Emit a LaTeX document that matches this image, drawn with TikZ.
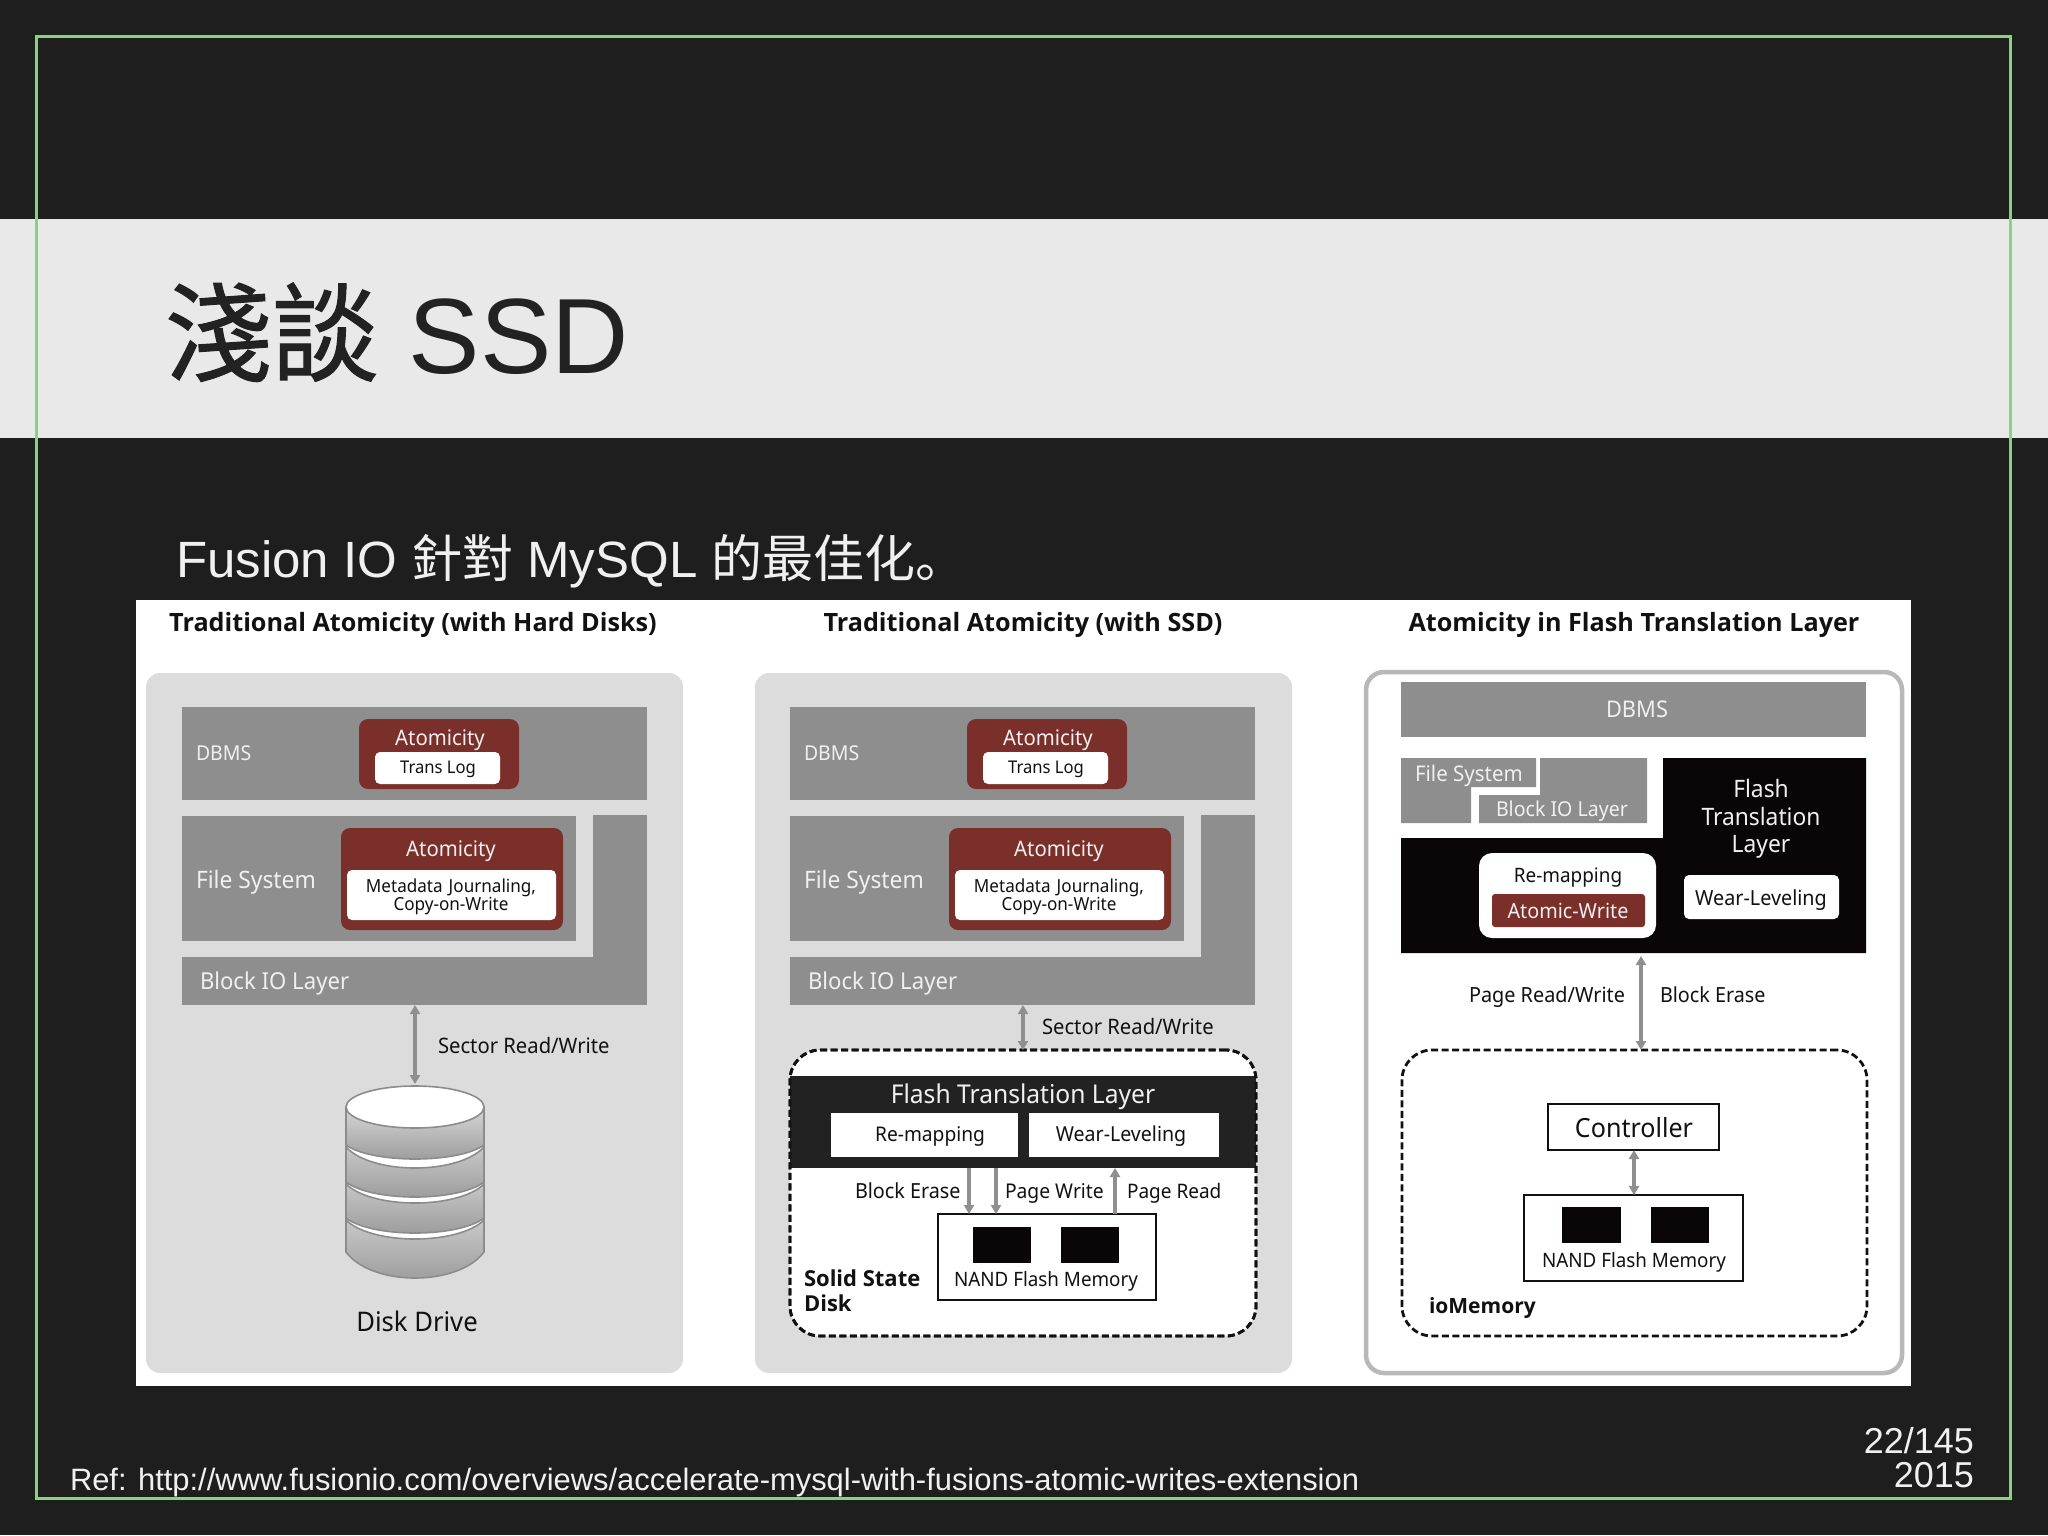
\documentclass[tikz,border=0pt]{standalone}
\usepackage{fontspec}
\setmainfont{Noto Sans}[FakeStretch=0.95]
\newfontfamily\libsans{Liberation Sans}
\newfontfamily\cjkfont{Noto Sans CJK SC}
\newfontfamily\cjktitle{Noto Sans CJK SC}[FakeBold=1]
\newfontfamily\hbf{Open Sans}
\usetikzlibrary{arrows.meta}
\definecolor{slide}{HTML}{1E1E1F}
\definecolor{bandc}{HTML}{E9E9E9}
\definecolor{frameg}{HTML}{86D47E}
\definecolor{panelc}{HTML}{DDDCDD}
\definecolor{barc}{HTML}{8E8E8E}
\definecolor{redc}{HTML}{7B2F2A}
\definecolor{ink}{HTML}{111111}
\definecolor{ftlc}{HTML}{222222}
\definecolor{blk}{HTML}{0A0506}
\definecolor{arrc}{HTML}{8F8F8F}
\newcommand{\fs}[1]{\fontsize{#1}{#1}\selectfont}
\tikzset{
  plain/.style={inner sep=0pt,outer sep=0pt},
  panel/.style={plain,fill=panelc,rounded corners=14pt},
  panelw/.style={plain,fill=white,draw=black!28,line width=4.5pt,rounded corners=18pt},
  bar/.style={plain,fill=barc},
  redbox/.style={plain,fill=redc,rounded corners=9pt},
  redflat/.style={plain,fill=redc,rounded corners=3pt},
  whitebox/.style={plain,fill=white,rounded corners=5pt},
  whitebig/.style={plain,fill=white,rounded corners=13pt},
  whiteflat/.style={plain,fill=white},
  blackbox/.style={plain,fill=blk},
  ftlband/.style={plain,fill=ftlc},
  outlined/.style={plain,fill=white,draw=ink,line width=2.6pt},
  dashbox/.style={plain,fill=white,draw=ink,line width=2.8pt,dash pattern=on 7pt off 3.5pt,rounded corners=30pt},
  dashline/.style={plain,draw=ink,line width=2.8pt,dash pattern=on 7pt off 3.5pt,rounded corners=30pt},
  dbl/.style={draw=arrc,line width=3.4pt,{Triangle[length=9pt,width=10pt]}-{Triangle[length=9pt,width=10pt]}},
  onearrow/.style={draw=arrc,line width=3.4pt,-{Triangle[length=9pt,width=10pt]}},
  lb/.style={plain,text=ink,font=\fs{20.5},anchor=mid,yshift=-5pt},
  lbw/.style={lb,anchor=mid west},
  wt/.style={plain,text=white!94!black,font=\fs{20.5},anchor=mid,yshift=-5pt},
  wtw/.style={wt,anchor=mid west},
  head/.style={plain,text=ink,font=\hbf\fs{25.2}\bfseries,anchor=mid,yshift=-5pt},
  bold/.style={plain,text=ink,font=\hbf\fs{22}\bfseries,anchor=mid west,yshift=-5pt},
  slabline/.style={draw=black!45,line width=1.6pt},
}
\newcommand{\bx}[6]{%
  \pgfmathsetmacro{\bxcx}{(#3+#5)/2}%
  \pgfmathsetmacro{\bxcy}{(#4+#6)/2}%
  \pgfmathsetmacro{\bxw}{#5-#3}%
  \pgfmathsetmacro{\bxh}{#6-#4}%
  \node[#1,minimum width=\bxw pt,minimum height=\bxh pt] (#2) at (\bxcx,\bxcy) {};%
}
\newcommand{\slab}[3]{%
  \pgfmathsetmacro{\slh}{#2+4*#3/3}%
  \path[slabline,top color=black!16,bottom color=black!40]
    (346,#1) -- (346,#2) .. controls (372,\slh) and (458,\slh) .. (484,#2) -- (484,#1) -- cycle;%
}
\newcommand{\whitecres}[3]{%
  \pgfmathsetmacro{\slh}{#2+4*#3/3}%
  \path[slabline,fill=white]
    (346,#1) -- (346,#2) .. controls (372,\slh) and (458,\slh) .. (484,#2) -- (484,#1) -- cycle;%
}
\newcommand{\layerstack}[2]{%
  \begin{scope}[xshift=#2pt]
    \bx{bar}{#1dbms}{182}{707}{647}{800}
    \node[wtw] (#1dbmst) at (196,753) {DBMS};
    \bx{redbox}{#1reda}{359}{719}{519}{789}
    \node[wt,font=\fs{21.4}] (#1atoma) at (440,738) {Atomicity};
    \bx{whitebox}{#1logb}{375}{752}{500}{784}
    \node[lb,font=\fs{17.5}] (#1logt) at (438,766) {Trans Log};
    \bx{bar}{#1fs}{182}{816}{576}{941}
    \node[wtw,font=\fs{24}] (#1fst) at (196,881) {File System};
    \bx{redbox}{#1redb}{341}{828}{563}{930}
    \node[wt,font=\fs{21.4}] (#1atomb) at (451,849) {Atomicity};
    \bx{whitebox}{#1metab}{347}{870}{556}{920}
    \node[lb,anchor=center,font=\fs{18},align=center,text width=200pt] (#1metat) at (451,892) {Metadata Journaling,\\Copy-on-Write};
    \bx{bar}{#1bio}{182}{957}{647}{1005}
    \bx{bar}{#1biov}{593}{815}{647}{958}
    \node[wtw,font=\fs{23.3}] (#1biot) at (200,982) {Block IO Layer};
  \end{scope}%
}
\begin{document}
\begin{tikzpicture}[x=1pt,y=-1pt]
\useasboundingbox (0,0) rectangle (2048,1535);
\fill[slide] (0,0) rectangle (2048,1535);
\fill[bandc] (0,219) rectangle (2048,438);
\node[plain,anchor=base west,text=ftlc,font=\fs{107}] (title) at (165,373) {\cjktitle 淺談\libsans{} SSD};
\node[plain,anchor=base west,text=white!94!black,font=\fs{51}] (sub) at (176,577) {\libsans Fusion IO \cjkfont 針對\libsans{} MySQL \cjkfont 的最佳化。};
\bx{plain,fill=white}{ground}{136}{600}{1911}{1386}
\node[head] (h1) at (413,624) {Traditional Atomicity (with Hard Disks)};
\node[head] (h2) at (1023,624) {Traditional Atomicity (with SSD)};
\node[head] (h3) at (1634,624) {Atomicity in Flash Translation Layer};
% panel 1
\bx{panel}{pa}{146}{673}{683}{1373}
\layerstack{a}{0}
\slab{1200}{1252}{26}
\whitecres{1200}{1220}{19}
\slab{1165}{1218}{15}
\whitecres{1165}{1184}{19}
\slab{1130}{1182}{15}
\whitecres{1130}{1147}{21}
\slab{1107}{1145}{14}
\draw[slabline,fill=white] (415,1107) ellipse (69 and 21);
\coordinate (disktop) at (415,1084);
\coordinate (xa) at (415,0);
\draw[dbl] (xa |- abio.south) -- (xa |- disktop);
\node[lbw,font=\fs{21.3}] (sect1) at (438,1046) {Sector Read/Write};
\node[lb,font=\fs{27}] (diskt) at (417,1324) {Disk Drive};
% panel 2
\bx{panel}{pb}{755}{673}{1292}{1373}
\layerstack{b}{608}
\bx{dashbox}{ssd}{790}{1050}{1256}{1336}
\bx{ftlband}{ftl}{790}{1076}{1256}{1168}
\bx{dashline}{ssdb}{790}{1050}{1256}{1336}
\node[wt,font=\fs{25.9}] (ftlt) at (1023,1096) {Flash Translation Layer};
\bx{whiteflat}{rmap}{831}{1113}{1018}{1157}
\bx{whiteflat}{wear}{1029}{1113}{1219}{1157}
\node[lb,font=\fs{20.2}] (rmapt) at (930,1134) {Re-mapping};
\node[lb,font=\fs{20.6}] (weart) at (1121,1134) {Wear-Leveling};
\bx{outlined}{nanda}{938}{1214}{1156}{1300}
\bx{blackbox}{chipa}{973}{1227}{1031}{1263}
\bx{blackbox}{chipb}{1061}{1227}{1119}{1263}
\node[lb,font=\fs{19.8}] (nandat) at (1046,1279) {NAND Flash Memory};
\coordinate (xb) at (1023,0);
\coordinate (xc) at (969,0);
\coordinate (xd) at (996,0);
\coordinate (xe) at (1115,0);
\draw[dbl] (xb |- bbio.south) -- (xb |- ssd.north);
\draw[onearrow] (xc |- ftl.south) -- (xc |- nanda.north);
\draw[onearrow] (xd |- ftl.south) -- (xd |- nanda.north);
\draw[onearrow] (xe |- nanda.north) -- (xe |- ftl.south);
\node[lbw,font=\fs{21.3}] (sect2) at (1042,1027) {Sector Read/Write};
\node[lbw,font=\fs{20.8}] (eras) at (855,1191) {Block Erase};
\node[lbw,font=\fs{20.3}] (pgw) at (1005,1191) {Page Write};
\node[lbw,font=\fs{20}] (pgr) at (1127,1191) {Page Read};
\node[bold,anchor=west,align=left] (ssdt) at (804,1286) {Solid State\\[2.8pt]Disk};
% panel 3
\bx{panelw}{pc}{1366}{672}{1902}{1373}
\bx{bar}{dbmsc}{1401}{682}{1866}{737}
\node[wt,font=\fs{23}] (dbmsct) at (1637,710) {DBMS};
\path[fill=barc] (1401,758) -- (1536,758) -- (1536,787) -- (1471,787) -- (1471,823) -- (1401,823) -- cycle;
\path[fill=barc] (1540,758) -- (1647,758) -- (1647,823) -- (1479,823) -- (1479,795) -- (1540,795) -- cycle;
\node[wtw,font=\fs{21.6}] (fsc) at (1415,774) {File System};
\node[wtw,font=\fs{20.6}] (bioc) at (1496,809) {Block IO Layer};
\path[fill=blk] (1663,758) -- (1866,758) -- (1866,953) -- (1401,953) -- (1401,838) -- (1663,838) -- cycle;
\node[wt,anchor=center,font=\fs{24},align=center] (ftlct) at (1761,814) {Flash\\[3.5pt]Translation\\[3.5pt]Layer};
\bx{whitebig}{rmapc}{1479}{853}{1656}{938}
\node[lb,font=\fs{19.9}] (rmapct) at (1568,875) {Re-mapping};
\bx{redflat}{atomw}{1492}{894}{1645}{927}
\node[wt,font=\fs{20.8}] (atomwt) at (1568,911) {Atomic-Write};
\bx{whitebox}{wearc}{1684}{875}{1839}{919}
\node[lb,font=\fs{20.8}] (wearct) at (1761,898) {Wear-Leveling};
\bx{dashbox}{iomem}{1402}{1050}{1867}{1336}
\coordinate (xf) at (1641,0);
\coordinate (ftlctop) at (1641,956);
\draw[dbl] (ftlctop) -- (xf |- iomem.north);
\node[lbw,font=\fs{20.9}] (prw) at (1469,995) {Page Read/Write};
\node[lbw,font=\fs{20.8}] (bec) at (1660,995) {Block Erase};
\bx{outlined}{ctrl}{1548}{1104}{1719}{1150}
\node[lb,font=\fs{26.4}] (ctrlt) at (1634,1130) {Controller};
\bx{outlined}{nandb}{1524}{1195}{1743}{1281}
\bx{blackbox}{chipc}{1562}{1207}{1621}{1243}
\bx{blackbox}{chipd}{1651}{1207}{1709}{1243}
\node[lb,font=\fs{19.8}] (nandbt) at (1634,1260) {NAND Flash Memory};
\coordinate (xg) at (1634,0);
\draw[dbl] (xg |- ctrl.south) -- (xg |- nandb.north);
\node[bold,font=\hbf\fs{21}\bfseries] (iomt) at (1429,1306) {ioMemory};
% frame and footers
\draw[frameg,line width=2.6pt] (36.5,36.5) rectangle (2010.5,1498.5);
\node[plain,anchor=base west,text=white!94!black,font=\libsans\fs{30.9}] (refl) at (70,1490) {Ref: http://www.fusionio.com/overviews/accelerate-mysql-with-fusions-atomic-writes-extension};
\node[plain,anchor=base east,text=white!94!black,font=\libsans\fs{36}] (pg) at (1974,1453) {22/145};
\node[plain,anchor=base east,text=white!94!black,font=\libsans\fs{36}] (yr) at (1974,1487) {2015};
\end{tikzpicture}
\end{document}
